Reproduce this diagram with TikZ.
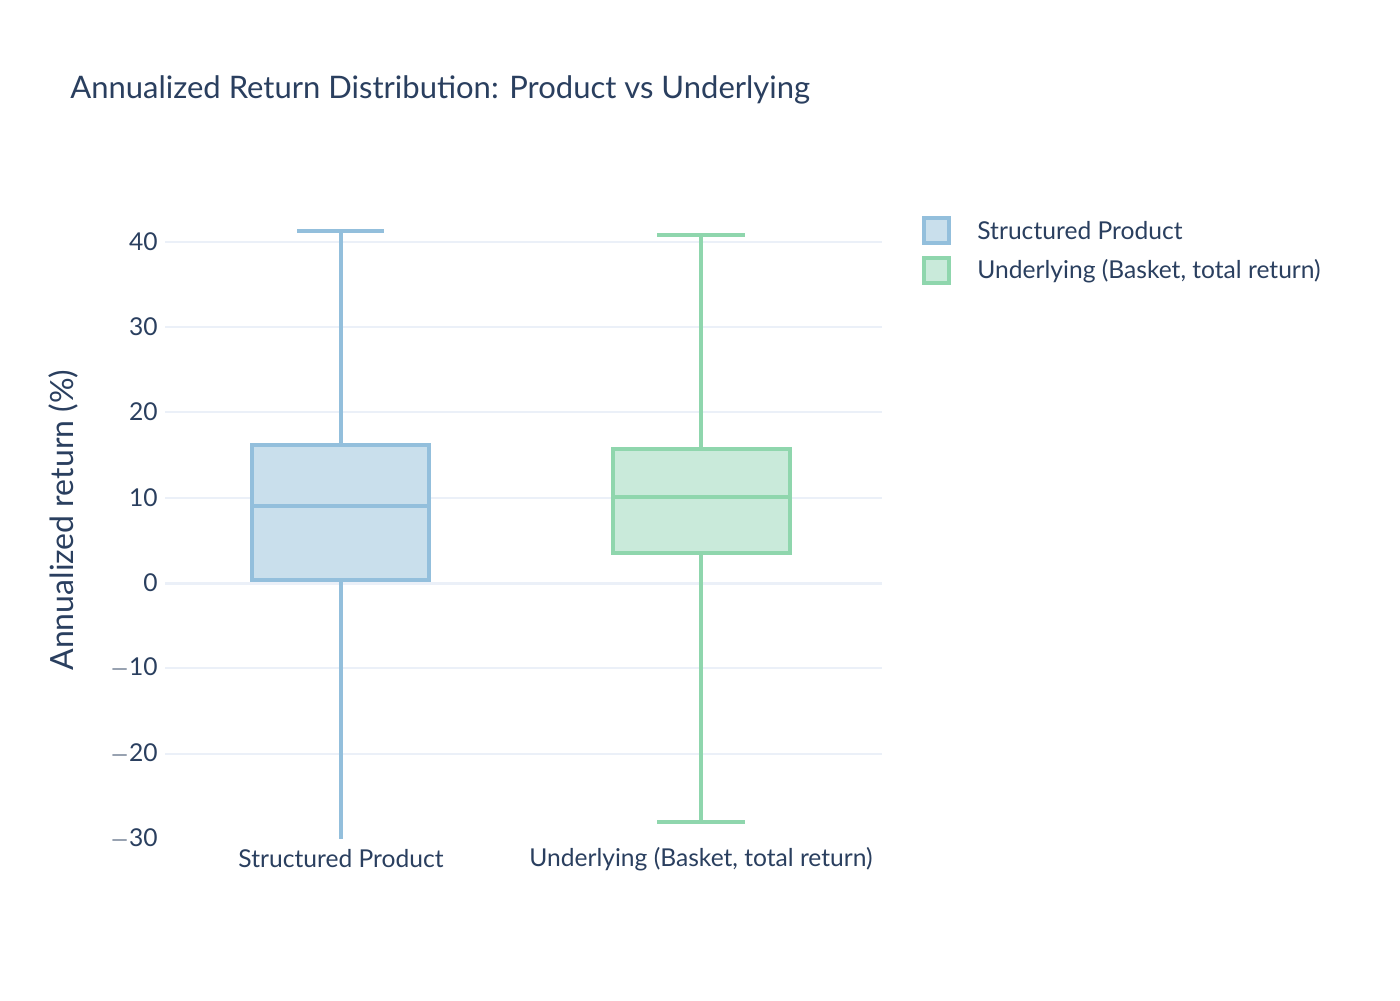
\documentclass[tikz,border=0pt]{standalone}
\usepackage{fontspec}
\setmainfont{Lato}
\begin{document}
\begin{tikzpicture}[x=0.5pt,y=-0.5pt,
  txt/.style={text=tc,inner sep=0pt},
  grid/.style={draw=gc,line width=0.9pt},
  bbox/.style={line width=1.6pt},
  tick/.style={txt,anchor=east,font=\fontsize{12.3}{14}\selectfont}]
\definecolor{tc}{HTML}{2A3F5F}
\definecolor{gc}{HTML}{EBF0F8}
\definecolor{bs}{HTML}{93BFDC}
\definecolor{bf}{HTML}{C9DFEC}
\definecolor{gs}{HTML}{8FD6AD}
\definecolor{gf}{HTML}{C9EADA}
\useasboundingbox (0,0) rectangle (1400,1000);
\fill[white] (0,0) rectangle (1400,1000);
\foreach \v/\y in {40/242,30/327,20/412,10/498,-10/668,-20/754}{
  \draw[grid] (165,\y) -- (882,\y);}
\draw[draw=gc,line width=1.5pt] (165,583) -- (882,583);
\foreach \l/\y [count=\i] in {40/242,30/327,20/412,10/498,0/583,{$-$10}/668,{$-$20}/754,{$-$30}/839}{
  \node[tick] (t\i) at (158,\y) {\l};}
% blue box
\draw[bs,bbox] (341,445) -- (341,231) (297,231) -- (384,231);
\draw[bs,bbox] (341,580) -- (341,839);
\draw[bs,bbox,fill=bf] (252,445) rectangle (429,580);
\draw[bs,bbox] (252,506) -- (429,506);
% green box
\draw[gs,bbox] (701,449) -- (701,235) (657,235) -- (745,235);
\draw[gs,bbox] (701,553) -- (701,822) (657,822) -- (745,822);
\draw[gs,bbox,fill=gf] (613,449) rectangle (790,553);
\draw[gs,bbox] (613,497) -- (790,497);
% labels
\node[txt,font=\fontsize{12.3}{14}\selectfont] (x1) at (341,859) {Structured Product};
\node[txt,font=\fontsize{12.3}{14}\selectfont] (x2) at (701,859) {Underlying (Basket, total return)};
\node[txt,anchor=west,font=\fontsize{15.5}{18}\selectfont] (title) at (70,90) {Annualized Return Distribution: Product vs Underlying};
\node[txt,rotate=90,font=\fontsize{16}{18}\selectfont] (yl) at (63,520) {Annualized return (\%)};
% legend
\draw[bs,bbox,fill=bf] (924,218) rectangle (949,243);
\draw[gs,bbox,fill=gf] (924,258) rectangle (949,283);
\node[txt,anchor=west,font=\fontsize{12.3}{14}\selectfont] (l1) at (977,231) {Structured Product};
\node[txt,anchor=west,font=\fontsize{12.3}{14}\selectfont] (l2) at (977,271) {Underlying (Basket, total return)};
\end{tikzpicture}
\end{document}
